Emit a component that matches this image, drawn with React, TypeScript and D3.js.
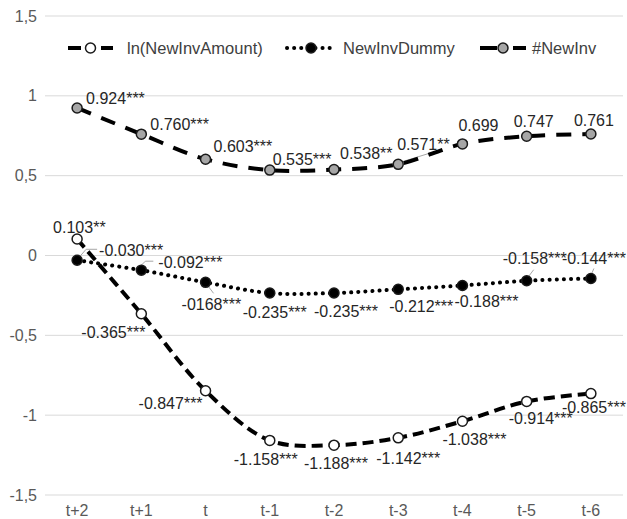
import React from 'react';
import * as d3 from 'd3';

const categories = ['t+2', 't+1', 't', 't-1', 't-2', 't-3', 't-4', 't-5', 't-6'];
const yTicks = [-1.5, -1, -0.5, 0, 0.5, 1, 1.5];

const lnAmount = [0.103, -0.365, -0.847, -1.158, -1.188, -1.142, -1.038, -0.914, -0.865];
const invDummy = [-0.03, -0.092, -0.168, -0.235, -0.235, -0.212, -0.188, -0.158, -0.144];
const numInv = [0.924, 0.76, 0.603, 0.535, 0.538, 0.571, 0.699, 0.747, 0.761];

const lnLabels = ['0.103**', '-0.365***', '-0.847***', '-1.158***', '-1.188***', '-1.142***', '-1.038***', '-0.914***', '-0.865***'];
const dummyLabels = ['-0.030***', '-0.092***', '-0168***', '-0.235***', '-0.235***', '-0.212***', '-0.188***', '-0.158***', '-0.144***'];
const numLabels = ['0.924***', '0.760***', '0.603***', '0.535***', '0.538**', '0.571**', '0.699', '0.747', '0.761'];

// label offsets from the point (px): [dx to text start, dy to text centre]
const lnOffsets = [[-24, -12], [-60, 19], [-67, 13], [-36, 19], [-30, 18], [-22, 21], [-20, 18], [-18, 17], [-29, 14]];
const dummyOffsets = [[22, -10], [17, -8], [-24, 22], [-27, 19], [-20, 18], [-9, 17], [-8, 16], [-24, -22], [-29, -20]];
const numOffsets = [[9, -10], [9, -10], [8, -13], [3, -11], [6, -16], [-1, -20], [-4, -18], [-13, -15], [-17, -14]];

// leader lines: [series, index, polyline points relative to the data point]
const leaders: [string, number, number[][]][] = [
  ['dummy', 0, [[2, -3], [9, -11], [20, -11]]],
  ['dummy', 1, [[-1, -4], [4, -9], [12, -9]]],
  ['dummy', 2, [[2, 3], [8, 11]]],
  ['dummy', 7, [[1, -3], [7, -11]]],
  ['dummy', 8, [[0, -3], [3, -10]]],
  ['num', 5, [[2, -2], [31, -11]]],
];

const W = 627;
const H = 519;
const font = '"Liberation Sans", Arial, sans-serif';

const series = [
  { key: 'ln', name: 'ln(NewInvAmount)', values: lnAmount, labels: lnLabels, offsets: lnOffsets, dash: '11,6', cap: 'butt', fill: '#ffffff', legend: [68, 113, 127] },
  { key: 'dummy', name: 'NewInvDummy', values: invDummy, labels: dummyLabels, offsets: dummyOffsets, dash: '0.1,7', cap: 'round', fill: '#000000', legend: [287, 335, 343] },
  { key: 'num', name: '#NewInv', values: numInv, labels: numLabels, offsets: numOffsets, dash: '15,11', cap: 'butt', fill: '#a6a6a6', legend: [480, 526, 532] },
];

export default function App() {
  const x = d3.scaleBand<string>().domain(categories).range([45, 623]).padding(0);
  const y = d3.scaleLinear().domain([-1.5, 1.5]).range([495, 16]);
  const cx = (i: number) => (x(categories[i]) as number) + x.bandwidth() / 2;

  const line = d3
    .line<number>()
    .x((_, i) => cx(i))
    .y((d) => y(d))
    .curve(d3.curveCatmullRom.alpha(0.5));

  const drawOrder = ['num', 'dummy', 'ln'];

  return (
    <svg width={W} height={H} style={{ position: 'absolute', left: 0, top: 0, background: '#fff' }} fontFamily={font}>
      {yTicks.map((t) => (
        <g key={t}>
          <line x1={45} x2={623} y1={y(t)} y2={y(t)} stroke="#d9d9d9" strokeWidth={1} />
          <text x={37} y={y(t)} dy="0.35em" textAnchor="end" fontSize={16} fill="#595959">
            {String(t).replace('.', ',')}
          </text>
        </g>
      ))}
      {categories.map((c, i) => (
        <text key={c} x={cx(i)} y={516} textAnchor="middle" fontSize={16} fill="#595959">
          {c}
        </text>
      ))}

      {leaders.map(([s, i, pts], k) => {
        const sr = series.find((d) => d.key === s)!;
        const px = cx(i);
        const py = y(sr.values[i]);
        return (
          <polyline
            key={k}
            points={pts.map((p) => `${px + p[0]},${py + p[1]}`).join(' ')}
            fill="none"
            stroke="#a6a6a6"
            strokeWidth={1}
          />
        );
      })}

      {drawOrder.map((k) => {
        const s = series.find((d) => d.key === k)!;
        return (
          <g key={k}>
            <path d={line(s.values) || ''} fill="none" stroke="#000" strokeWidth={4} strokeDasharray={s.dash} strokeLinecap={s.cap as any} />
            {s.values.map((v, i) => (
              <circle key={i} cx={cx(i)} cy={y(v)} r={5} fill={s.fill} stroke="#1a1a1a" strokeWidth={1.5} />
            ))}
          </g>
        );
      })}

      {series.map((s) =>
        s.values.map((v, i) => (
          <text
            key={s.key + i}
            x={cx(i) + s.offsets[i][0]}
            y={y(v) + s.offsets[i][1]}
            dy="0.35em"
            fontSize={16}
            fill="#262626"
          >
            {s.labels[i]}
          </text>
        ))
      )}

      {series.map((s) => {
        const [x1, x2, tx] = s.legend;
        const ly = 48;
        return (
          <g key={'lg' + s.key}>
            <line x1={x1} x2={x2} y1={ly} y2={ly} stroke="#000" strokeWidth={4} strokeDasharray={s.key === 'dummy' ? s.dash : s.key === 'ln' ? '13,20' : '17,16'} strokeLinecap={s.cap as any} />
            <circle cx={(x1 + x2) / 2} cy={ly} r={5} fill={s.fill} stroke="#1a1a1a" strokeWidth={1.5} />
            <text x={tx} y={ly} dy="0.35em" fontSize={16.5} fill="#404040">
              {s.name}
            </text>
          </g>
        );
      })}
    </svg>
  );
}
